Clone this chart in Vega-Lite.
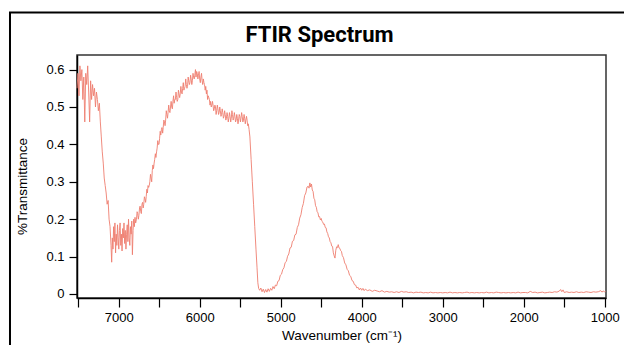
{
  "$schema": "https://vega.github.io/schema/vega-lite/v6.json",
  "width": 529,
  "height": 243,
  "autosize": {"type": "none"},
  "padding": {"left": 77, "top": 55, "right": 18, "bottom": 47},
  "background": "white",
  "title": {"text": "FTIR Spectrum", "font": "Roboto", "fontSize": 22, "fontWeight": "bold", "color": "black", "anchor": "middle", "dx": -22, "baseline": "alphabetic", "offset": -52},
  "config": {
    "view": {"stroke": "#333333", "strokeWidth": 1.5},
    "axis": {"labelFont": "Liberation Sans", "titleFont": "Liberation Sans", "labelColor": "black", "titleColor": "black", "domainColor": "black", "tickColor": "black", "domainWidth": 1.5, "tickWidth": 1.2, "grid": false, "labelFontSize": 13, "titleFontSize": 13.5, "titleFontWeight": "normal"}
  },
  "datasets": {
    "frame": [{"x1": 8341, "x2": 565, "y1": 0.7526, "y2": -0.1765}],
    "spectrum": [
      {"w":7514,"t":0.55},{"w":7502,"t":0.59},{"w":7490,"t":0.53},{"w":7478,"t":0.61},{"w":7466,"t":0.57},{"w":7454,"t":0.60},{"w":7442,"t":0.52},{"w":7430,"t":0.58},{"w":7418,"t":0.46},{"w":7406,"t":0.59},{"w":7394,"t":0.56},{"w":7382,"t":0.61},{"w":7370,"t":0.54},{"w":7358,"t":0.46},{"w":7346,"t":0.57},{"w":7334,"t":0.52},{"w":7322,"t":0.56},{"w":7310,"t":0.53},{"w":7298,"t":0.55},{"w":7286,"t":0.50},{"w":7274,"t":0.54},{"w":7262,"t":0.52},{"w":7250,"t":0.49},{"w":7238,"t":0.51},{"w":7226,"t":0.46},{"w":7214,"t":0.42},{"w":7202,"t":0.38},{"w":7190,"t":0.35},{"w":7178,"t":0.31},{"w":7166,"t":0.29},{"w":7154,"t":0.27},{"w":7142,"t":0.24},{"w":7130,"t":0.25},{"w":7118,"t":0.20},
      {"w":7106,"t":0.18},{"w":7094,"t":0.13},{"w":7086,"t":0.085},{"w":7078,"t":0.15},{"w":7070,"t":0.12},{"w":7062,"t":0.18},{"w":7054,"t":0.14},{"w":7046,"t":0.19},{"w":7038,"t":0.11},{"w":7030,"t":0.16},{"w":7022,"t":0.13},{"w":7014,"t":0.185},{"w":7006,"t":0.15},{"w":6998,"t":0.12},{"w":6990,"t":0.17},{"w":6982,"t":0.19},{"w":6974,"t":0.13},{"w":6966,"t":0.16},{"w":6958,"t":0.115},{"w":6950,"t":0.175},{"w":6942,"t":0.15},{"w":6934,"t":0.19},{"w":6926,"t":0.135},{"w":6918,"t":0.17},{"w":6910,"t":0.12},{"w":6902,"t":0.16},{"w":6894,"t":0.185},{"w":6886,"t":0.14},{"w":6878,"t":0.20},{"w":6870,"t":0.15},{"w":6862,"t":0.13},{"w":6854,"t":0.18},{"w":6846,"t":0.16},{"w":6838,"t":0.195},{"w":6830,"t":0.105},{"w":6822,"t":0.17},{"w":6814,"t":0.20},{"w":6806,"t":0.18},{"w":6798,"t":0.205},{"w":6790,"t":0.19},
      {"w":6780,"t":0.20},{"w":6772,"t":0.22},{"w":6765,"t":0.215},{"w":6757,"t":0.20},{"w":6750,"t":0.21},{"w":6742,"t":0.23},{"w":6735,"t":0.235},{"w":6727,"t":0.22},{"w":6720,"t":0.215},{"w":6712,"t":0.24},{"w":6705,"t":0.245},{"w":6697,"t":0.23},{"w":6690,"t":0.24},{"w":6682,"t":0.26},{"w":6675,"t":0.255},{"w":6667,"t":0.245},{"w":6660,"t":0.26},{"w":6652,"t":0.28},{"w":6645,"t":0.27},{"w":6637,"t":0.29},{"w":6630,"t":0.285},{"w":6622,"t":0.29},{"w":6615,"t":0.30},{"w":6607,"t":0.32},{"w":6600,"t":0.31},{"w":6592,"t":0.30},{"w":6585,"t":0.33},{"w":6577,"t":0.345},{"w":6570,"t":0.335},{"w":6562,"t":0.35},{"w":6555,"t":0.36},{"w":6547,"t":0.375},{"w":6540,"t":0.365},{"w":6532,"t":0.38},{"w":6525,"t":0.39},{"w":6517,"t":0.41},{"w":6510,"t":0.40},{"w":6502,"t":0.40},{"w":6495,"t":0.415},{"w":6487,"t":0.435},{"w":6480,"t":0.425},{"w":6472,"t":0.44},{"w":6465,"t":0.445},{"w":6457,"t":0.43},{"w":6450,"t":0.445},{"w":6442,"t":0.465},{"w":6435,"t":0.46},{"w":6427,"t":0.45},{"w":6420,"t":0.465},{"w":6412,"t":0.49},{"w":6405,"t":0.48},{"w":6397,"t":0.47},{"w":6390,"t":0.485},{"w":6382,"t":0.505},{"w":6375,"t":0.49},{"w":6367,"t":0.485},{"w":6360,"t":0.50},{"w":6352,"t":0.515},{"w":6345,"t":0.50},{"w":6337,"t":0.495},{"w":6330,"t":0.515},{"w":6322,"t":0.53},{"w":6315,"t":0.51},{"w":6307,"t":0.52},{"w":6300,"t":0.52},{"w":6292,"t":0.54},{"w":6285,"t":0.525},{"w":6277,"t":0.515},{"w":6270,"t":0.52},{"w":6262,"t":0.545},{"w":6255,"t":0.535},{"w":6247,"t":0.525},{"w":6240,"t":0.535},{"w":6232,"t":0.555},{"w":6225,"t":0.54},{"w":6217,"t":0.535},{"w":6210,"t":0.55},{"w":6202,"t":0.565},{"w":6195,"t":0.545},{"w":6187,"t":0.55},{"w":6180,"t":0.555},{"w":6172,"t":0.575},{"w":6165,"t":0.56},{"w":6157,"t":0.55},{"w":6150,"t":0.555},{"w":6142,"t":0.58},{"w":6135,"t":0.57},{"w":6127,"t":0.56},{"w":6120,"t":0.565},{"w":6112,"t":0.585},{"w":6105,"t":0.575},{"w":6097,"t":0.56},{"w":6090,"t":0.57},{"w":6082,"t":0.59},{"w":6075,"t":0.58},{"w":6067,"t":0.575},{"w":6060,"t":0.585},{"w":6052,"t":0.60},{"w":6045,"t":0.58},{"w":6037,"t":0.595},{"w":6030,"t":0.59},{"w":6022,"t":0.575},{"w":6015,"t":0.585},{"w":6007,"t":0.595},{"w":6000,"t":0.575},{"w":5992,"t":0.565},{"w":5985,"t":0.58},{"w":5977,"t":0.59},{"w":5970,"t":0.57},{"w":5962,"t":0.56},{"w":5955,"t":0.575},{"w":5947,"t":0.565},{"w":5940,"t":0.56},{"w":5932,"t":0.545},{"w":5925,"t":0.555},{"w":5917,"t":0.535},{"w":5910,"t":0.545},{"w":5902,"t":0.52},{"w":5895,"t":0.53},{"w":5887,"t":0.525},{"w":5880,"t":0.52},{"w":5872,"t":0.505},{"w":5865,"t":0.515},{"w":5857,"t":0.50},{"w":5850,"t":0.505},{"w":5842,"t":0.515},{"w":5835,"t":0.505},{"w":5827,"t":0.49},{"w":5820,"t":0.495},{"w":5812,"t":0.505},{"w":5805,"t":0.50},{"w":5797,"t":0.48},{"w":5790,"t":0.49},{"w":5782,"t":0.505},{"w":5775,"t":0.495},{"w":5767,"t":0.48},{"w":5760,"t":0.485},{"w":5752,"t":0.50},{"w":5745,"t":0.49},{"w":5737,"t":0.475},{"w":5730,"t":0.48},{"w":5722,"t":0.495},{"w":5715,"t":0.485},{"w":5707,"t":0.47},{"w":5700,"t":0.475},{"w":5692,"t":0.49},{"w":5685,"t":0.48},{"w":5677,"t":0.465},{"w":5670,"t":0.47},{"w":5662,"t":0.485},{"w":5655,"t":0.475},{"w":5647,"t":0.46},{"w":5640,"t":0.47},{"w":5632,"t":0.485},{"w":5625,"t":0.475},{"w":5617,"t":0.46},{"w":5610,"t":0.47},{"w":5602,"t":0.49},{"w":5595,"t":0.48},{"w":5587,"t":0.465},{"w":5580,"t":0.47},{"w":5572,"t":0.485},{"w":5565,"t":0.475},{"w":5557,"t":0.46},{"w":5550,"t":0.465},{"w":5542,"t":0.48},{"w":5535,"t":0.47},{"w":5527,"t":0.455},{"w":5520,"t":0.465},{"w":5512,"t":0.48},{"w":5505,"t":0.475},{"w":5497,"t":0.46},{"w":5490,"t":0.47},{"w":5482,"t":0.485},{"w":5475,"t":0.475},{"w":5467,"t":0.46},{"w":5460,"t":0.465},{"w":5452,"t":0.48},{"w":5445,"t":0.47},{"w":5437,"t":0.455},{"w":5430,"t":0.465},{"w":5422,"t":0.475},{"w":5415,"t":0.465},{"w":5407,"t":0.45},{"w":5400,"t":0.455},{"w":5390,"t":0.44},{"w":5380,"t":0.42},
      {"w":5365,"t":0.36},{"w":5350,"t":0.30},{"w":5335,"t":0.24},{"w":5320,"t":0.18},{"w":5305,"t":0.12},{"w":5292,"t":0.07},{"w":5282,"t":0.03},{"w":5272,"t":0.015},{"w":5260,"t":0.01},{"w":5245,"t":0.016},{"w":5230,"t":0.006},{"w":5215,"t":0.013},{"w":5200,"t":0.004},{"w":5185,"t":0.012},{"w":5170,"t":0.005},{"w":5155,"t":0.014},{"w":5140,"t":0.007},{"w":5125,"t":0.015},{"w":5110,"t":0.01},{"w":5095,"t":0.02},{"w":5080,"t":0.014},{"w":5065,"t":0.024},{"w":5050,"t":0.022},{"w":5035,"t":0.034},{"w":5020,"t":0.036},{"w":5005,"t":0.05},{"w":4990,"t":0.053},{"w":4975,"t":0.065},{"w":4960,"t":0.07},{"w":4945,"t":0.084},{"w":4930,"t":0.087},{"w":4915,"t":0.101},{"w":4900,"t":0.107},{"w":4885,"t":0.123},{"w":4870,"t":0.125},{"w":4855,"t":0.141},{"w":4840,"t":0.143},{"w":4825,"t":0.158},{"w":4810,"t":0.16},{"w":4795,"t":0.178},{"w":4780,"t":0.185},{"w":4765,"t":0.203},{"w":4750,"t":0.212},{"w":4735,"t":0.231},{"w":4720,"t":0.242},{"w":4705,"t":0.263},{"w":4690,"t":0.27},{"w":4675,"t":0.286},{"w":4660,"t":0.288},{"w":4650,"t":0.283},{"w":4640,"t":0.297},{"w":4630,"t":0.286},{"w":4620,"t":0.294},{"w":4610,"t":0.278},{"w":4600,"t":0.274},{"w":4590,"t":0.256},{"w":4580,"t":0.252},{"w":4570,"t":0.236},{"w":4560,"t":0.232},{"w":4550,"t":0.22},{"w":4540,"t":0.217},{"w":4530,"t":0.206},{"w":4520,"t":0.207},{"w":4510,"t":0.198},{"w":4500,"t":0.202},{"w":4490,"t":0.194},{"w":4480,"t":0.192},{"w":4470,"t":0.186},{"w":4460,"t":0.187},{"w":4450,"t":0.178},{"w":4440,"t":0.177},{"w":4430,"t":0.166},{"w":4420,"t":0.162},{"w":4410,"t":0.153},{"w":4400,"t":0.15},{"w":4390,"t":0.14},{"w":4380,"t":0.137},{"w":4370,"t":0.128},{"w":4360,"t":0.127},{"w":4350,"t":0.11},{"w":4340,"t":0.102},{"w":4330,"t":0.096},{"w":4320,"t":0.117},{"w":4310,"t":0.126},{"w":4300,"t":0.124},{"w":4290,"t":0.132},{"w":4280,"t":0.123},{"w":4270,"t":0.122},{"w":4260,"t":0.116},{"w":4250,"t":0.114},{"w":4240,"t":0.103},{"w":4225,"t":0.097},{"w":4210,"t":0.083},{"w":4195,"t":0.078},{"w":4180,"t":0.066},{"w":4165,"t":0.062},{"w":4150,"t":0.05},{"w":4135,"t":0.047},{"w":4120,"t":0.036},{"w":4105,"t":0.034},{"w":4090,"t":0.025},{"w":4075,"t":0.024},{"w":4060,"t":0.016},{"w":4045,"t":0.018},{"w":4030,"t":0.011},{"w":4015,"t":0.016},{"w":4000,"t":0.01},{"w":3985,"t":0.015},{"w":3970,"t":0.009},{"w":3955,"t":0.013},
      {"w":3930,"t":0.009},{"w":3900,"t":0.011},{"w":3870,"t":0.007},{"w":3840,"t":0.01},{"w":3810,"t":0.008},{"w":3780,"t":0.006},{"w":3750,"t":0.009},{"w":3720,"t":0.005},{"w":3690,"t":0.007},{"w":3660,"t":0.005},{"w":3630,"t":0.006},{"w":3600,"t":0.004},{"w":3570,"t":0.006},{"w":3540,"t":0.004},{"w":3510,"t":0.007},{"w":3480,"t":0.005},{"w":3450,"t":0.006},{"w":3420,"t":0.004},{"w":3390,"t":0.005},{"w":3360,"t":0.003},{"w":3330,"t":0.005},{"w":3300,"t":0.004},{"w":3270,"t":0.005},{"w":3240,"t":0.003},{"w":3210,"t":0.004},{"w":3180,"t":0.003},{"w":3150,"t":0.005},{"w":3120,"t":0.003},{"w":3090,"t":0.004},{"w":3060,"t":0.003},{"w":3030,"t":0.004},{"w":3000,"t":0.003},{"w":2970,"t":0.004},{"w":2940,"t":0.003},{"w":2910,"t":0.005},{"w":2880,"t":0.003},{"w":2850,"t":0.004},{"w":2820,"t":0.003},{"w":2790,"t":0.004},{"w":2760,"t":0.003},{"w":2730,"t":0.004},{"w":2700,"t":0.005},{"w":2670,"t":0.003},{"w":2640,"t":0.004},{"w":2610,"t":0.003},{"w":2580,"t":0.004},{"w":2550,"t":0.003},{"w":2520,"t":0.004},{"w":2490,"t":0.003},{"w":2460,"t":0.005},{"w":2430,"t":0.003},{"w":2400,"t":0.004},{"w":2370,"t":0.003},{"w":2340,"t":0.005},{"w":2310,"t":0.004},{"w":2280,"t":0.003},{"w":2250,"t":0.004},{"w":2220,"t":0.003},{"w":2190,"t":0.004},{"w":2160,"t":0.003},{"w":2130,"t":0.004},{"w":2100,"t":0.003},{"w":2070,"t":0.005},{"w":2040,"t":0.003},{"w":2010,"t":0.004},{"w":1980,"t":0.004},{"w":1950,"t":0.003},{"w":1920,"t":0.007},{"w":1890,"t":0.004},{"w":1860,"t":0.005},{"w":1830,"t":0.003},{"w":1800,"t":0.004},{"w":1770,"t":0.005},{"w":1740,"t":0.003},{"w":1710,"t":0.004},{"w":1680,"t":0.005},{"w":1650,"t":0.004},{"w":1620,"t":0.006},{"w":1590,"t":0.005},{"w":1560,"t":0.008},{"w":1545,"t":0.012},{"w":1530,"t":0.006},{"w":1515,"t":0.011},{"w":1500,"t":0.004},{"w":1470,"t":0.006},{"w":1440,"t":0.004},{"w":1410,"t":0.005},{"w":1380,"t":0.004},{"w":1350,"t":0.006},{"w":1320,"t":0.004},{"w":1290,"t":0.005},{"w":1260,"t":0.004},{"w":1230,"t":0.006},{"w":1200,"t":0.005},{"w":1170,"t":0.004},{"w":1140,"t":0.006},{"w":1110,"t":0.005},{"w":1080,"t":0.006},{"w":1050,"t":0.009},{"w":1035,"t":0.005},{"w":1020,"t":0.008},{"w":1005,"t":0.006},{"w":990,"t":0.007}
    ]
  },
  "layer": [
    {
      "data": {"name": "frame"},
      "mark": {"type": "rect", "fill": null, "stroke": "black", "strokeWidth": 2, "clip": false},
      "encoding": {
        "x": {"field": "x1", "type": "quantitative", "scale": {"domain": [7514, 985], "nice": false, "zero": false}},
        "x2": {"field": "x2"},
        "y": {"field": "y1", "type": "quantitative", "scale": {"domain": [-0.0107, 0.639], "nice": false, "zero": false}},
        "y2": {"field": "y2"}
      }
    },
    {
      "data": {"name": "spectrum"},
      "mark": {"type": "line", "color": "#ee7e70", "strokeWidth": 1, "opacity": 0.9},
      "encoding": {
        "x": {
          "field": "w", "type": "quantitative",
          "scale": {"domain": [7514, 985], "nice": false, "zero": false},
          "axis": {
            "title": "Wavenumber (cm⁻¹)",
            "values": [7500, 7000, 6500, 6000, 5500, 5000, 4500, 4000, 3500, 3000, 2500, 2000, 1500, 1000],
            "labelExpr": "datum.value % 1000 === 0 ? format(datum.value, 'd') : ''",
            "tickSize": 9, "labelPadding": 4, "titlePadding": 4
          }
        },
        "y": {
          "field": "t", "type": "quantitative",
          "scale": {"domain": [-0.0107, 0.639], "nice": false, "zero": false},
          "axis": {
            "title": "%Transmittance",
            "values": [0, 0.05, 0.1, 0.15, 0.2, 0.25, 0.3, 0.35, 0.4, 0.45, 0.5, 0.55, 0.6],
            "labelExpr": "abs(datum.value * 10 - round(datum.value * 10)) < 0.01 ? format(datum.value, '.1~f') : ''",
            "tickSize": 8, "labelPadding": 5,
            "titleX": -55, "titleY": 131, "titleBaseline": "middle", "titleAnchor": "middle"
          }
        }
      }
    }
  ]
}
